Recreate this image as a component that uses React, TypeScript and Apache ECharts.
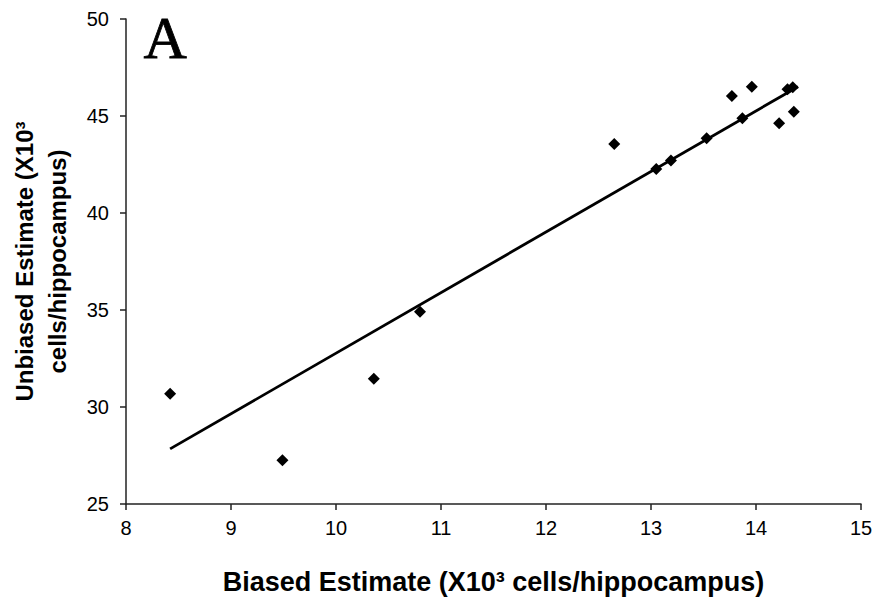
import React, { useEffect, useRef } from "react";
import * as echarts from "echarts";

const biasedX: number[] = [8.42, 9.49, 10.36, 10.80, 12.65, 13.05, 13.19, 13.53, 13.77, 13.87, 13.96, 14.22, 14.30, 14.35, 14.36];
const unbiasedY: number[] = [30.68, 27.25, 31.46, 34.91, 43.56, 42.27, 42.70, 43.85, 46.03, 44.88, 46.51, 44.62, 46.38, 46.48, 45.22];
const fitX: number[] = [8.42, 14.40];
const fitY: number[] = [27.84, 46.51];
const xTitle = "Biased Estimate (X10\u00B3 cells/hippocampus)";
const yTitle = "Unbiased Estimate (X10\u00B3\ncells/hippocampus)";
const panelLabel = "A";

export default function App() {
  const ref = useRef<HTMLDivElement>(null);
  useEffect(() => {
    if (!ref.current) return;
    const chart = echarts.init(ref.current, null, { renderer: "svg" });
    const font = "Liberation Sans, Arial, sans-serif";
    chart.setOption({
      animation: false,
      backgroundColor: "#fff",
      grid: { left: 126, right: 15, top: 19, bottom: 101, containLabel: false },
      xAxis: {
        type: "value",
        min: 8,
        max: 15,
        interval: 1,
        name: xTitle,
        nameLocation: "middle",
        nameGap: 64,
        nameTextStyle: { fontFamily: font, fontSize: 27, fontWeight: "bold", color: "#000" },
        axisLine: { show: true, lineStyle: { color: "#222", width: 1.5 } },
        axisTick: { show: true, inside: false, length: 6, lineStyle: { color: "#222", width: 1.5 } },
        axisLabel: { fontFamily: font, fontSize: 20, color: "#000", margin: 14 },
        splitLine: { show: false },
      },
      yAxis: {
        type: "value",
        min: 25,
        max: 50,
        interval: 5,
        name: yTitle,
        nameLocation: "middle",
        nameRotate: 90,
        nameGap: 52,
        nameTextStyle: { fontFamily: font, fontSize: 24, fontWeight: "bold", color: "#000", lineHeight: 33 },
        axisLine: { show: true, lineStyle: { color: "#222", width: 1.5 } },
        axisTick: { show: true, inside: false, length: 6, lineStyle: { color: "#222", width: 1.5 } },
        axisLabel: { fontFamily: font, fontSize: 20, color: "#000", margin: 17 },
        splitLine: { show: false },
      },
      graphic: [
        {
          type: "text",
          left: 143,
          top: 8,
          style: {
            text: panelLabel,
            font: "60px 'Liberation Serif', 'Times New Roman', serif",
            fill: "#000",
            stroke: "#000",
            lineWidth: 0.8,
          },
        },
      ],
      series: [
        {
          type: "line",
          data: fitX.map((x, i) => [x, fitY[i]]),
          showSymbol: false,
          symbol: "none",
          lineStyle: { color: "#000", width: 2.8 },
          silent: true,
          z: 2,
        },
        {
          type: "scatter",
          data: biasedX.map((x, i) => [x, unbiasedY[i]]),
          symbol: "diamond",
          symbolSize: 12,
          itemStyle: { color: "#000", opacity: 1 },
          z: 3,
        },
      ],
    });
    return () => chart.dispose();
  }, []);
  return <div ref={ref} style={{ width: 876, height: 605, position: "absolute", left: 0, top: 0 }} />;
}
